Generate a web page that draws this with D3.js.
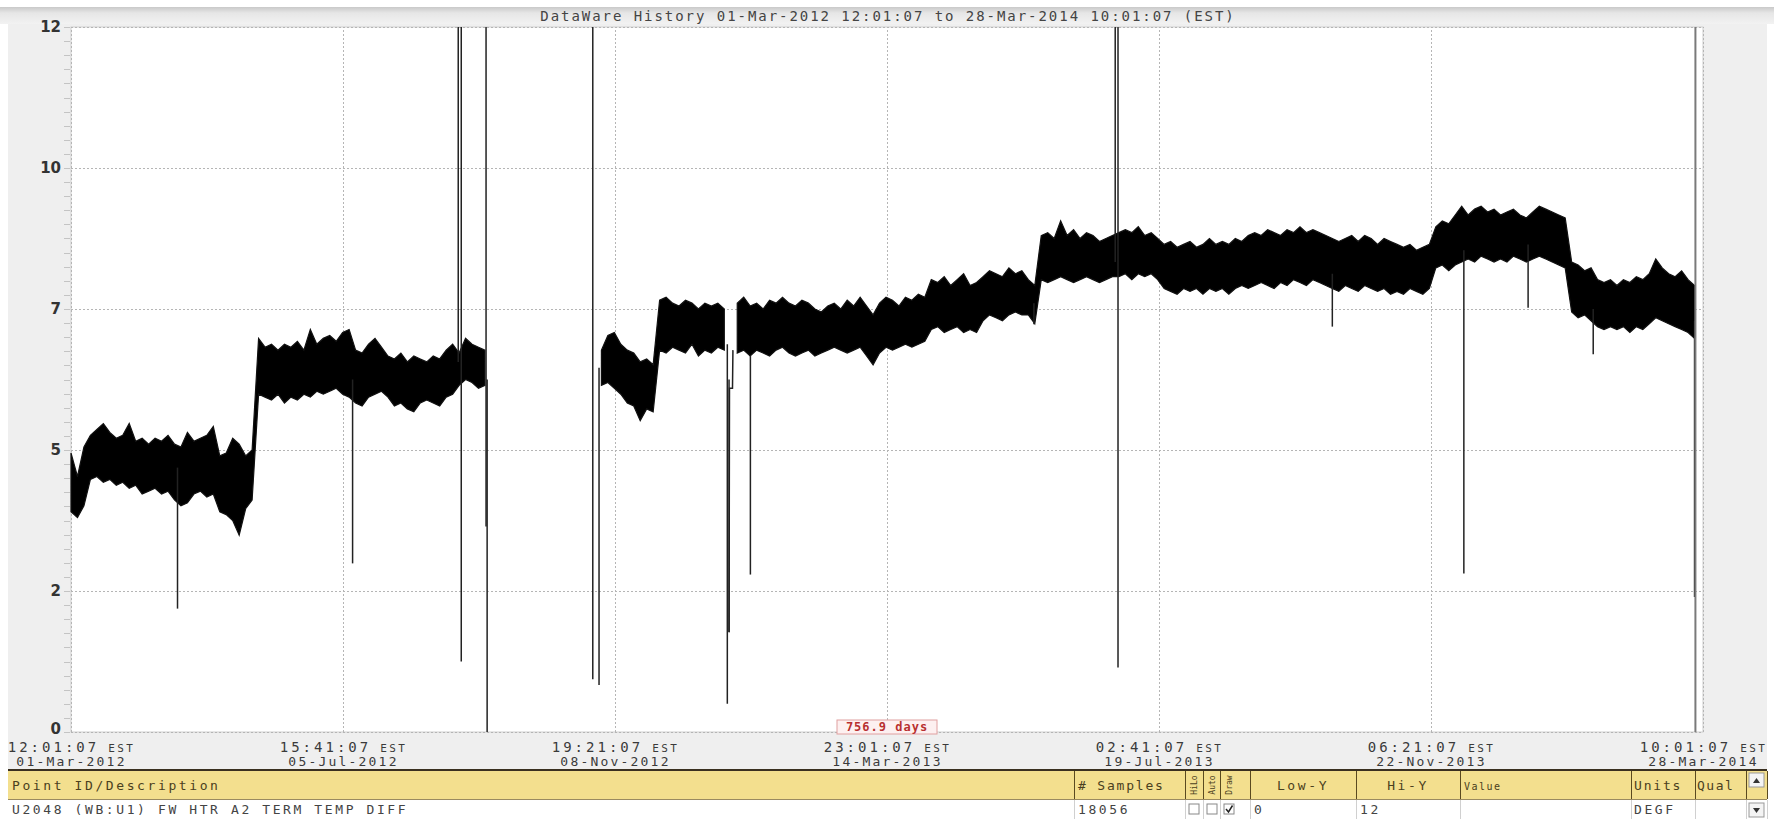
<!DOCTYPE html>
<html>
<head>
<meta charset="utf-8">
<script src="https://cdn.jsdelivr.net/npm/d3@7"></script>
<style>
  body { margin: 0; background: #fff; }
  svg { display: block; font-family: "DejaVu Sans Mono", monospace; }
</style>
</head>
<body>
<div id="chart"></div>
<script>
// time span of the history window (EST shown as UTC so no DST shift)
const startTime = Date.UTC(2012, 2, 1, 12, 1, 7);
const endTime = Date.UTC(2014, 2, 28, 10, 1, 7);
const DAY = 864e5;
const binDays = 3;

// band envelope, one value per 3-day bin (null = no data)
const bandHigh = [
  4.75,4.35,4.85,5.05,5.15,5.25,5.1,5.0,5.05,5.25,4.95,5.0,4.9,5.0,4.95,5.05,4.9,4.85,5.1,4.95,5.0,5.05,5.2,4.7,4.75,5.0,4.9,4.7,4.8,
  6.7,6.55,6.6,6.5,6.6,6.55,6.65,6.5,6.85,6.6,6.7,6.75,6.65,6.8,6.85,6.5,6.45,6.6,6.7,6.55,6.4,6.35,6.45,6.3,6.4,6.35,6.3,6.4,6.35,6.5,6.6,6.45,6.7,6.6,6.55,6.5,
  null,null,null,null,null,null,null,null,null,null,null,null,null,null,null,null,null,
  6.5,6.75,6.8,6.6,6.5,6.45,6.3,6.35,6.25,
  7.35,7.4,7.3,7.25,7.35,7.3,7.2,7.3,7.25,7.3,7.2,
  null,
  7.3,7.4,7.25,7.3,7.2,7.35,7.3,7.4,7.3,7.25,7.35,7.3,7.2,7.15,7.25,7.3,7.2,7.35,7.25,7.4,7.25,7.1,
  7.3,7.4,7.35,7.25,7.4,7.35,7.45,7.4,
  7.7,7.65,7.75,7.6,7.7,7.8,7.6,7.65,
  7.75,7.85,7.8,7.75,7.9,7.8,7.85,7.7,7.6,
  8.45,8.5,8.4,8.7,8.45,8.55,8.4,8.5,8.45,8.35,8.4,8.45,8.5,8.55,8.5,8.6,8.45,8.5,8.4,
  8.3,8.35,8.25,8.3,8.35,8.25,8.3,8.4,8.3,8.35,8.3,8.4,8.35,8.45,8.5,8.45,8.55,8.5,8.45,8.55,
  8.5,8.6,8.5,8.55,8.5,8.45,8.4,8.35,8.4,8.45,8.35,8.45,8.4,8.3,8.4,8.35,8.3,8.25,8.3,8.2,8.25,8.3,
  8.6,8.7,8.65,8.8,8.95,8.8,8.9,8.95,8.85,8.9,8.8,8.85,8.9,8.8,8.75,8.85,8.95,8.9,8.85,8.8,8.75,
  8.0,7.95,7.85,7.9,7.7,7.65,7.7,7.6,7.7,7.65,7.75,7.7,7.8,8.05,7.9,7.8,7.75,7.85,7.7,7.6,
  null
];
const bandLow = [
  3.75,3.65,3.85,4.3,4.35,4.25,4.3,4.2,4.25,4.15,4.2,4.05,4.1,4.15,4.05,4.1,3.95,3.85,3.9,4.05,4.1,4.0,4.05,3.75,3.7,3.6,3.35,3.8,3.95,
  5.75,5.7,5.65,5.75,5.6,5.7,5.65,5.75,5.7,5.8,5.75,5.8,5.85,5.75,5.7,5.6,5.55,5.7,5.75,5.8,5.7,5.55,5.6,5.5,5.45,5.6,5.65,5.6,5.55,5.7,5.75,5.9,6.0,5.95,5.85,5.9,
  null,null,null,null,null,null,null,null,null,null,null,null,null,null,null,null,null,
  5.9,5.95,5.85,5.75,5.6,5.55,5.3,5.5,5.45,
  6.5,6.45,6.55,6.5,6.45,6.6,6.4,6.5,6.45,6.55,6.5,
  null,
  6.45,6.5,6.4,6.5,6.45,6.4,6.5,6.55,6.45,6.4,6.45,6.5,6.4,6.45,6.5,6.55,6.5,6.45,6.5,6.55,6.4,6.25,
  6.45,6.55,6.5,6.55,6.6,6.55,6.6,6.65,
  6.85,6.9,6.8,6.85,6.9,6.8,6.85,6.8,
  7.0,7.1,7.05,7.0,7.1,7.15,7.1,7.1,6.95,
  7.7,7.65,7.7,7.75,7.7,7.65,7.7,7.75,7.7,7.65,7.7,7.75,7.75,7.8,7.7,7.8,7.75,7.8,7.7,
  7.55,7.5,7.45,7.55,7.5,7.55,7.45,7.55,7.5,7.55,7.45,7.55,7.6,7.55,7.6,7.65,7.6,7.55,7.65,7.6,
  7.7,7.65,7.6,7.7,7.65,7.6,7.55,7.5,7.6,7.55,7.5,7.6,7.55,7.5,7.55,7.45,7.5,7.45,7.55,7.5,7.45,7.55,
  7.9,7.95,7.85,7.95,8.0,8.05,8.0,8.1,8.05,8.0,8.05,8.0,8.1,8.05,8.0,8.05,8.1,8.05,8.0,7.95,7.9,
  7.15,7.05,7.1,7.0,6.9,6.85,6.9,6.85,6.9,6.8,6.9,6.85,6.95,7.05,7.0,6.95,6.9,6.85,6.8,6.7,
  null
];

// single-sample excursions: day offset, value it leaves from, value it reaches
const spikeDays = [49.4, 130.6, 179.6, 181.0, 192.5, 193.0, 242.0, 244.9, 304.4, 305.2, 315.1, 446.6, 484.3, 485.6, 585.0, 646.0, 675.8, 706.0, 753.0];
const spikeFrom = [4.5, 6.0, 6.3, 12, 3.5, 0, 0.9, 0.8, 0.48, 1.7, 6.4, 7.3, 8.0, 12, 7.8, 8.2, 8.3, 7.2, 7.0];
const spikeTo   = [2.1, 2.87, 12, 1.2, 12, 6.0, 12, 6.2, 6.6, 6.0, 2.68, 6.94, 12, 1.1, 6.9, 2.7, 7.22, 6.43, 2.3];
const dipTrace = [[305.2, 1.7], [305.4, 5.85], [306.8, 5.85], [307.0, 6.5]];
const cursorDay = 753.4;

const yTicks = [0, 2.4, 4.8, 7.2, 9.6, 12];
const tickTimes = ["12:01:07", "15:41:07", "19:21:07", "23:01:07", "02:41:07", "06:21:07", "10:01:07"];
const tickDates = ["01-Mar-2012", "05-Jul-2012", "08-Nov-2012", "14-Mar-2013", "19-Jul-2013", "22-Nov-2013", "28-Mar-2014"];
const spanLabel = "756.9 days";
const title = "DataWare History 01-Mar-2012 12:01:07 to 28-Mar-2014 10:01:07 (EST)";

const tableRow = {
  point: "U2048 (WB:U1) FW HTR A2 TERM TEMP DIFF",
  samples: "18056", lowY: "0", hiY: "12", value: "", units: "DEGF", qual: ""
};

const W = 1774, H = 819;
const plot = { left: 71, right: 1703, top: 27, bottom: 732 };
const mono = "DejaVu Sans Mono";

const svg = d3.select("#chart").append("svg")
  .attr("width", W)
  .attr("height", H);

// panel backgrounds
svg.append("rect").attr("x", 0).attr("y", 0).attr("width", W).attr("height", H).attr("fill", "#fff");
svg.append("rect").attr("x", 8).attr("y", 22).attr("width", 1759).attr("height", 748).attr("fill", "#efefef");

const grad = svg.append("defs").append("linearGradient")
  .attr("id", "hdr").attr("x1", 0).attr("x2", 0).attr("y1", 0).attr("y2", 1);
grad.append("stop").attr("offset", "0%").attr("stop-color", "#c9c9c9");
grad.append("stop").attr("offset", "35%").attr("stop-color", "#e6e6e6");
grad.append("stop").attr("offset", "100%").attr("stop-color", "#f2f2f2");
svg.append("rect").attr("x", 0).attr("y", 7).attr("width", 1774).attr("height", 17).attr("fill", "url(#hdr)");

svg.append("text")
  .attr("x", 888).attr("y", 21)
  .attr("text-anchor", "middle")
  .attr("font-size", 14)
  .attr("letter-spacing", 1.95)
  .attr("fill", "#444")
  .text(title);

svg.append("rect")
  .attr("x", plot.left).attr("y", plot.top)
  .attr("width", plot.right - plot.left).attr("height", plot.bottom - plot.top)
  .attr("fill", "#fff").attr("stroke", "#cfcfcf");

const x = d3.scaleTime()
  .domain([new Date(startTime), new Date(endTime)])
  .range([plot.left, plot.right]);
const y = d3.scaleLinear()
  .domain([0, 12])
  .range([plot.bottom, plot.top]);
const dayToDate = d => new Date(startTime + d * DAY);
const xTickValues = tickTimes.map((t, k) => new Date(startTime + k * (endTime - startTime) / (tickTimes.length - 1)));

// ruler ticks beside the y axis
svg.append("g")
  .selectAll("line")
  .data(d3.range(0, 12.001, 0.24))
  .join("line")
  .attr("x1", 64).attr("x2", 70)
  .attr("y1", d => Math.round(y(d)) + 0.5).attr("y2", d => Math.round(y(d)) + 0.5)
  .attr("stroke", "#c4c4c4");

// dotted grid
svg.append("g")
  .attr("transform", `translate(${plot.left},0)`)
  .call(d3.axisLeft(y).tickValues(yTicks).tickSize(-(plot.right - plot.left)).tickFormat(""))
  .call(g => g.select(".domain").remove())
  .call(g => g.selectAll("line").attr("stroke", "#b5b5b5").attr("stroke-dasharray", "2,2"));

svg.append("g")
  .attr("transform", `translate(0,${plot.bottom})`)
  .call(d3.axisBottom(x).tickValues(xTickValues).tickSize(-(plot.bottom - plot.top)).tickFormat(""))
  .call(g => g.select(".domain").remove())
  .call(g => g.selectAll("line").attr("stroke", "#b5b5b5").attr("stroke-dasharray", "2,2"));

// y labels
svg.append("g")
  .attr("transform", `translate(${plot.left},0)`)
  .call(d3.axisLeft(y).tickValues(yTicks).tickFormat(d3.format(".0f")).tickSize(0).tickPadding(10))
  .call(g => g.select(".domain").remove())
  .call(g => g.selectAll("text")
    .attr("font-family", "DejaVu Sans")
    .attr("font-weight", "bold")
    .attr("font-size", 15)
    .attr("dy", d => d === 0 ? "0.1em" : "0.32em")
    .attr("fill", "#333"));

// x labels: time + EST, then date
const xAxis = svg.append("g")
  .attr("transform", `translate(0,${plot.bottom})`)
  .call(d3.axisBottom(x).tickValues(xTickValues).tickSize(0).tickFormat(""))
  .call(g => g.select(".domain").remove());
xAxis.selectAll(".tick").each(function (d, i) {
  const g = d3.select(this);
  const t1 = g.append("text")
    .attr("font-family", mono)
    .attr("text-anchor", "middle")
    .attr("y", 20)
    .attr("fill", "#3a3a3a");
  t1.append("tspan").attr("font-size", 14).attr("letter-spacing", 3).text(tickTimes[i]);
  t1.append("tspan").attr("font-size", 11).attr("letter-spacing", 2.4).text(" EST");
  g.append("text")
    .attr("font-family", mono)
    .attr("text-anchor", "middle")
    .attr("y", 34)
    .attr("font-size", 13)
    .attr("letter-spacing", 2.2)
    .attr("fill", "#3a3a3a")
    .text(tickDates[i]);
});

// data band
const bandData = bandHigh.map((h, i) => ({ date: dayToDate(i * binDays), hi: h, lo: bandLow[i] }));
const area = d3.area()
  .defined(d => d.hi != null)
  .x(d => x(d.date))
  .y0(d => y(d.lo))
  .y1(d => y(d.hi));
svg.append("path")
  .datum(bandData)
  .attr("d", area)
  .attr("fill", "#000")
  .attr("stroke", "#111")
  .attr("stroke-width", 1.2);

const line = d3.line()
  .x(d => x(dayToDate(d[0])))
  .y(d => y(d[1]));

svg.append("g")
  .selectAll("path")
  .data(spikeDays.map((d, i) => [[d, spikeFrom[i]], [d, spikeTo[i]]]))
  .join("path")
  .attr("d", line)
  .attr("fill", "none")
  .attr("stroke", "#222")
  .attr("stroke-width", 1.5);

svg.append("path")
  .datum(dipTrace)
  .attr("d", line)
  .attr("fill", "none")
  .attr("stroke", "#222")
  .attr("stroke-width", 1.5);

svg.append("line")
  .attr("x1", x(dayToDate(cursorDay))).attr("x2", x(dayToDate(cursorDay)))
  .attr("y1", plot.top).attr("y2", plot.bottom)
  .attr("stroke", "#7a7a7a").attr("stroke-width", 2);

// span label
const spanX = x(xTickValues[3]);
svg.append("rect")
  .attr("x", spanX - 50).attr("y", 720).attr("width", 100).attr("height", 14)
  .attr("fill", "#fdf0f0").attr("stroke", "#e0a0a0");
svg.append("text")
  .attr("x", spanX).attr("y", 731)
  .attr("text-anchor", "middle")
  .attr("font-size", 12)
  .attr("font-weight", "bold")
  .attr("letter-spacing", 1)
  .attr("fill", "#b83030")
  .text(spanLabel);

// point table
const table = svg.append("g");
table.append("rect").attr("x", 8).attr("y", 771).attr("width", 1759).attr("height", 28).attr("fill", "#f3df8e");
table.append("rect").attr("x", 8).attr("y", 799).attr("width", 1759).attr("height", 20).attr("fill", "#fff");
table.append("line").attr("x1", 8).attr("x2", 1767).attr("y1", 770).attr("y2", 770).attr("stroke", "#3a3020").attr("stroke-width", 2);
table.append("line").attr("x1", 8).attr("x2", 1767).attr("y1", 799.5).attr("y2", 799.5).attr("stroke", "#9a8a60");

const colEdges = [1074, 1185, 1203, 1220, 1250, 1356, 1460, 1631, 1695, 1746, 1767];
table.selectAll(".col")
  .data(colEdges)
  .join("line")
  .attr("x1", d => d + 0.5).attr("x2", d => d + 0.5)
  .attr("y1", 771).attr("y2", 799)
  .attr("stroke", "#5a4a20");
table.selectAll(".colr")
  .data(colEdges)
  .join("line")
  .attr("x1", d => d + 0.5).attr("x2", d => d + 0.5)
  .attr("y1", 800).attr("y2", 819)
  .attr("stroke", "#d0d0d0");

const hdr = (tx, ty, s, anchor) => table.append("text")
  .attr("x", tx).attr("y", ty)
  .attr("text-anchor", anchor || "start")
  .attr("font-size", 13)
  .attr("letter-spacing", 2.6)
  .attr("fill", "#4a4020")
  .text(s);
hdr(12, 790, "Point ID/Description");
hdr(1078, 790, "# Samples").attr("letter-spacing", 1.8);
hdr(1303, 790, "Low-Y", "middle");
hdr(1408, 790, "Hi-Y", "middle");
hdr(1464, 790, "Value").attr("font-size", 10).attr("letter-spacing", 1.5);
hdr(1634, 790, "Units").attr("letter-spacing", 1.8);
hdr(1697, 790, "Qual").attr("letter-spacing", 1.5);

[["HiLo", 1194], ["Auto", 1212], ["Draw", 1229]].forEach(([s, cx]) => {
  table.append("text")
    .attr("transform", `translate(${cx + 3},785) rotate(-90)`)
    .attr("text-anchor", "middle")
    .attr("font-size", 8)
    .attr("fill", "#4a4020")
    .text(s);
});

const cell = (tx, s) => table.append("text")
  .attr("x", tx).attr("y", 814)
  .attr("font-size", 13)
  .attr("letter-spacing", 2.6)
  .attr("fill", "#444")
  .text(s);
cell(12, tableRow.point);
cell(1078, tableRow.samples);
cell(1254, tableRow.lowY);
cell(1360, tableRow.hiY);
cell(1464, tableRow.value);
cell(1634, tableRow.units);
cell(1697, tableRow.qual);

// check boxes
[1189, 1207, 1224].forEach((bx, i) => {
  table.append("rect").attr("x", bx).attr("y", 804).attr("width", 10).attr("height", 10)
    .attr("fill", "#fff").attr("stroke", "#888");
  if (i === 2) {
    table.append("path").attr("d", `M${bx + 2},${809} L${bx + 4.5},${812} L${bx + 8.5},${805.5}`)
      .attr("fill", "none").attr("stroke", "#222").attr("stroke-width", 1.5);
  }
});

// scroll arrows
table.append("rect").attr("x", 1749).attr("y", 773).attr("width", 15).attr("height", 14).attr("fill", "#f4f4f4").attr("stroke", "#999");
table.append("path").attr("d", "M1753,783 L1756.5,778 L1760,783 Z").attr("fill", "#333");
table.append("rect").attr("x", 1749).attr("y", 803).attr("width", 15).attr("height", 14).attr("fill", "#f4f4f4").attr("stroke", "#999");
table.append("path").attr("d", "M1753,808 L1756.5,813 L1760,808 Z").attr("fill", "#333");
</script>
</body>
</html>
